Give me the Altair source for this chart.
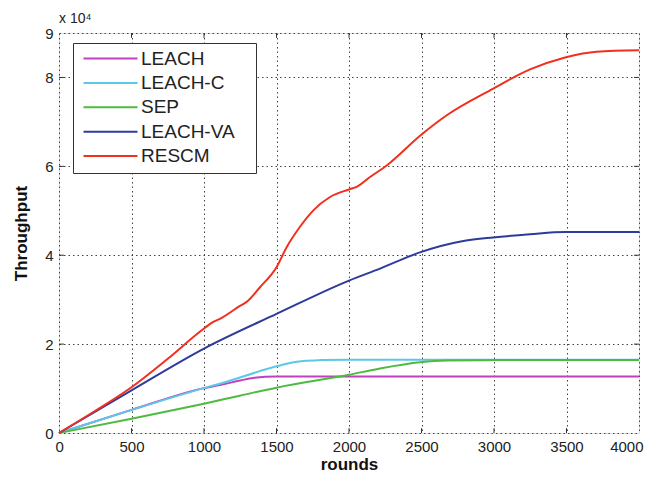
import altair as alt
import pandas as pd

series = ["LEACH", "LEACH-C", "SEP", "LEACH-VA", "RESCM"]
colors = ["#C040C0", "#5CC8E8", "#4EBA40", "#2E3A9C", "#F0301E"]

leach_x = [0, 500, 1000, 1110, 1250, 1340, 1500, 4000]
leach_y = [0, 5200, 10100, 10800, 11800, 12400, 12700, 12700]

leachc_x = [0, 500, 1000, 1110, 1500, 1600, 1685, 1800, 2000, 4000]
leachc_y = [0, 5200, 10100, 11100, 15000, 15800, 16200, 16400, 16500, 16500]

sep_x = [0, 500, 1000, 1248, 1500, 2000, 2214, 2490, 2674, 3000, 4000]
sep_y = [0, 3200, 6600, 8400, 10200, 13100, 14500, 15900, 16300, 16400, 16400]

va_x = [0, 500, 1000, 1500, 2000, 2214, 2494, 2789, 2995, 3248, 3490, 4000]
va_y = [0, 9600, 19000, 26800, 34300, 37000, 40700, 43200, 44000, 44700, 45200, 45200]

rescm_x = [0, 250, 500, 750, 1000, 1064, 1110, 1248, 1294, 1386, 1500, 1570, 1662,
           1754, 1869, 2000, 2053, 2145, 2260, 2494, 2674, 2995, 3248, 3490, 3708, 4000]
rescm_y = [0, 5000, 10300, 16700, 23500, 25000, 25700, 28600, 29500, 32800, 37300, 41800,
           46400, 50100, 53100, 54800, 55400, 57600, 60200, 67000, 71500, 77500, 81800,
           84500, 85800, 86100]

x_ticks = [0, 500, 1000, 1500, 2000, 2500, 3000, 3500, 4000]
y_ticks = [0, 20000, 40000, 60000, 80000, 90000]

rows = []
for name, xs, ys in [("LEACH", leach_x, leach_y), ("LEACH-C", leachc_x, leachc_y),
                     ("SEP", sep_x, sep_y), ("LEACH-VA", va_x, va_y),
                     ("RESCM", rescm_x, rescm_y)]:
    for i, (a, b) in enumerate(zip(xs, ys)):
        rows.append({"series": name, "rounds": a, "throughput": b, "order": i})
df = pd.DataFrame(rows)

FONT = "Liberation Sans"

xscale = alt.Scale(domain=[0, 4000], nice=False, zero=True)
yscale = alt.Scale(domain=[0, 90000], nice=False, zero=True)

lines = alt.Chart(df).mark_line(strokeWidth=2, interpolate="monotone").encode(
    x=alt.X("rounds:Q", scale=xscale,
            axis=alt.Axis(values=x_ticks, format="d", title="rounds", titleFontSize=17,
                          titleFontWeight="bold", titleFont=FONT, titleColor="#111",
                          labelFont=FONT, labelFontSize=15, labelColor="#222",
                          labelFlush=True, labelFlushOffset=4,
                          labelPadding=6, titlePadding=2, ticks=False, domain=False,
                          grid=True, gridDash=[1.5, 3],
                          gridColor="#444", gridWidth=1)),
    y=alt.Y("throughput:Q", scale=yscale,
            axis=alt.Axis(values=y_ticks, title="Throughput", titleFontSize=17,
                          titleFontWeight="bold", titleFont=FONT, titleColor="#111",
                          labelFont=FONT, labelFontSize=15, labelColor="#222",
                          labelExpr="datum.value / 10000", labelPadding=6,
                          titlePadding=14, ticks=False, domain=False,
                          labelFlush=False, grid=True, gridDash=[1.5, 3],
                          gridColor="#444", gridWidth=1)),
    color=alt.Color("series:N", scale=alt.Scale(domain=series, range=colors),
                    sort=series,
                    legend=alt.Legend(title="M", titleOrient="right", titleOpacity=0,
                                      titleFontSize=11, titlePadding=5,
                                      orient="none", legendX=14, legendY=10,
                                      symbolType="M-1,0H9.8", symbolSize=100,
                                      symbolStrokeWidth=2, labelFont=FONT,
                                      labelFontSize=19, labelColor="#222",
                                      labelOffset=43, padding=6, rowPadding=4.4,
                                      strokeColor="#333", fillColor="white")),
    order="order:Q",
)

xt = pd.DataFrame({"rounds": x_ticks[1:-1]})
yt = pd.DataFrame({"throughput": [20000, 40000, 60000, 80000]})

tick_bottom = alt.Chart(xt).mark_rule(color="#333").encode(
    x=alt.X("rounds:Q", scale=xscale), y=alt.datum(0), y2=alt.datum(1100))
tick_top = alt.Chart(xt).mark_rule(color="#333").encode(
    x=alt.X("rounds:Q", scale=xscale), y=alt.datum(90000), y2=alt.datum(88900))
tick_left = alt.Chart(yt).mark_rule(color="#333").encode(
    y=alt.Y("throughput:Q", scale=yscale), x=alt.datum(0), x2=alt.datum(35))
tick_right = alt.Chart(yt).mark_rule(color="#333").encode(
    y=alt.Y("throughput:Q", scale=yscale), x=alt.datum(4000), x2=alt.datum(3965))

chart = alt.layer(lines, tick_bottom, tick_top, tick_left, tick_right).properties(
    width=580, height=400,
    autosize=alt.AutoSizeParams(type="none"),
    padding={"left": 51, "top": 25, "right": 5, "bottom": 41},
    title=alt.TitleParams("x 10\u2074", anchor="start", frame="group", fontSize=14,
                          fontWeight="normal", font=FONT, color="#222", offset=0),
).configure_view(stroke="#333", strokeWidth=1.5).configure(background="white")

chart.save("out.html", embed_options={"renderer": "svg", "actions": False})
